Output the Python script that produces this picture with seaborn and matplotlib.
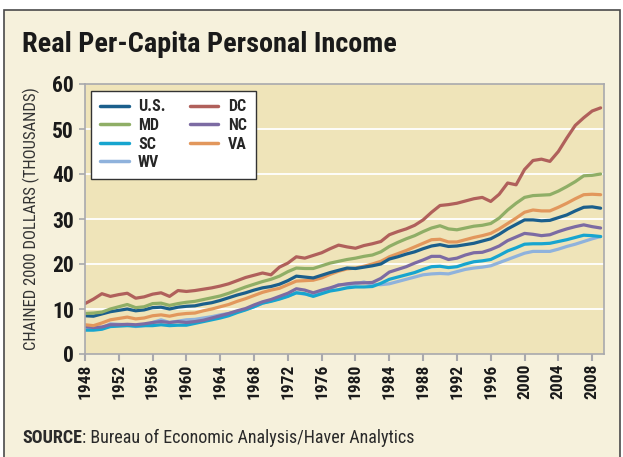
import matplotlib
matplotlib.use("Agg")
import matplotlib.pyplot as plt
from matplotlib.patches import Rectangle
from matplotlib.lines import Line2D
from matplotlib import font_manager
import seaborn as sns
import pandas as pd
import numpy as np

years = list(range(1948, 2010))

us = [8.5, 8.4, 8.9, 9.4, 9.7, 10.0, 9.6, 9.8, 10.3, 10.4, 10.0, 10.4, 10.6, 10.7, 11.1, 11.4,
      11.9, 12.5, 13.1, 13.6, 14.2, 14.7, 15.0, 15.5, 16.3, 17.3, 17.1, 16.9, 17.5, 18.1, 18.6, 19.1,
      19.0, 19.3, 19.6, 20.0, 21.1, 21.6, 22.2, 22.7, 23.4, 24.0, 24.3, 23.9, 24.0, 24.3, 24.6, 25.1,
      25.6, 26.6, 27.8, 28.8, 29.8, 29.8, 29.6, 29.7, 30.3, 30.9, 31.8, 32.6, 32.7, 32.4]
dc = [11.2, 12.2, 13.4, 12.8, 13.2, 13.5, 12.4, 12.7, 13.3, 13.6, 12.8, 14.1, 13.9, 14.1, 14.4, 14.7,
      15.1, 15.6, 16.3, 17.0, 17.5, 18.0, 17.6, 19.3, 20.2, 21.6, 21.3, 21.9, 22.5, 23.4, 24.2, 23.8,
      23.5, 24.1, 24.5, 25.0, 26.5, 27.2, 27.8, 28.6, 29.8, 31.5, 33.0, 33.2, 33.5, 34.0, 34.5, 34.8,
      33.9, 35.5, 38.0, 37.6, 41.0, 43.0, 43.3, 42.8, 45.0, 48.0, 50.8, 52.5, 54.0, 54.7]
md = [9.0, 9.1, 9.3, 10.0, 10.5, 11.0, 10.3, 10.5, 11.2, 11.3, 10.8, 11.2, 11.5, 11.7, 12.1, 12.5,
      12.9, 13.5, 14.2, 14.9, 15.5, 16.1, 16.6, 17.3, 18.3, 19.1, 19.0, 19.0, 19.6, 20.2, 20.6, 21.0,
      21.3, 21.7, 22.0, 22.7, 23.9, 24.8, 25.6, 26.3, 27.2, 28.0, 28.5, 27.8, 27.6, 28.0, 28.4, 28.6,
      29.0, 30.2, 32.0, 33.5, 34.8, 35.2, 35.3, 35.4, 36.2, 37.2, 38.3, 39.6, 39.7, 40.0]
nc = [6.1, 5.9, 6.0, 6.5, 6.5, 6.6, 6.5, 6.7, 7.0, 7.2, 7.0, 7.2, 7.0, 7.2, 7.5, 8.0,
      8.5, 9.0, 9.6, 10.1, 10.9, 11.6, 12.1, 12.8, 13.5, 14.5, 14.2, 13.6, 14.2, 14.7, 15.3, 15.6,
      15.8, 15.8, 15.9, 16.8, 18.2, 18.8, 19.4, 20.2, 20.9, 21.7, 21.7, 21.0, 21.3, 22.0, 22.5, 22.6,
      23.2, 24.0, 25.2, 26.0, 26.8, 26.6, 26.3, 26.5, 27.2, 27.8, 28.3, 28.7, 28.3, 28.0]
sc = [5.3, 5.3, 5.5, 6.1, 6.2, 6.3, 6.2, 6.3, 6.3, 6.5, 6.3, 6.4, 6.4, 6.8, 7.2, 7.6,
      8.0, 8.5, 9.2, 9.8, 10.5, 11.3, 11.7, 12.2, 12.8, 13.6, 13.4, 12.8, 13.4, 14.0, 14.3, 14.7,
      14.9, 14.9, 15.0, 15.7, 16.6, 17.1, 17.6, 18.1, 18.8, 19.4, 19.5, 19.2, 19.4, 20.0, 20.5, 20.7,
      21.0, 21.9, 22.9, 23.6, 24.4, 24.5, 24.5, 24.6, 25.0, 25.4, 25.9, 26.4, 26.3, 26.1]
va = [6.5, 6.3, 6.9, 7.6, 7.9, 8.2, 7.8, 8.0, 8.5, 8.7, 8.4, 8.8, 9.0, 9.1, 9.6, 10.0,
      10.5, 11.0, 11.7, 12.3, 13.0, 13.7, 14.2, 14.6, 15.4, 16.2, 16.3, 16.4, 16.9, 17.7, 18.4, 18.9,
      19.1, 19.5, 20.0, 20.6, 21.6, 22.3, 23.0, 23.8, 24.6, 25.4, 25.5, 24.9, 24.9, 25.4, 25.9, 26.3,
      26.8, 27.8, 29.0, 30.2, 31.5, 32.0, 31.8, 31.8, 32.6, 33.5, 34.5, 35.4, 35.5, 35.4]
wv = [6.1, 5.5, 5.8, 6.7, 6.6, 6.5, 6.1, 6.3, 7.0, 7.6, 7.0, 7.3, 7.6, 7.7, 8.0, 8.3,
      8.7, 9.0, 9.4, 9.9, 10.5, 11.3, 11.8, 12.3, 12.9, 13.6, 13.3, 13.0, 13.8, 14.5, 15.4, 15.4,
      15.6, 16.0, 15.5, 15.4, 15.6, 16.1, 16.6, 17.1, 17.6, 17.8, 17.9, 17.8, 18.3, 18.8, 19.1, 19.3,
      19.6, 20.3, 21.0, 21.7, 22.4, 22.8, 22.8, 22.8, 23.3, 23.9, 24.4, 25.0, 25.6, 26.1]

series_names = ["U.S.", "MD", "SC", "WV", "DC", "NC", "VA"]
series_values = [us, md, sc, wv, dc, nc, va]
colors = ["#1b5f8c", "#8fae66", "#17a5cf", "#8fb2dc", "#b0605b", "#7c6ba3", "#e2975c"]
x_ticks = list(range(1948, 2009, 4))
y_ticks = list(range(0, 61, 10))

title = "Real Per-Capita Personal Income"
ylabel = "CHAINED 2000 DOLLARS (THOUSANDS)"
source_bold = "SOURCE"
source_rest = ": Bureau of Economic Analysis/Haver Analytics"

df = pd.DataFrame({
    "year": np.tile(years, len(series_names)),
    "value": np.concatenate(series_values),
    "series": np.repeat(series_names, len(years)),
})

sns.set_theme(style="white")
installed = {f.name for f in font_manager.fontManager.ttflist}
narrow = [n for n in ["Roboto Condensed", "Open Sans Condensed", "Liberation Sans Narrow"]
          if n in installed]
fam = narrow[:1] + ["DejaVu Sans"]
plt.rcParams["font.family"] = fam

fig = plt.figure(figsize=(6.23, 4.57), dpi=100)
fig.patch.set_facecolor("white")
fig.patches.append(Rectangle((4 / 623, -0.01), 616 / 623, 1 - 10 / 457 + 0.01,
                             transform=fig.transFigure, facecolor="#f6f1dc",
                             edgecolor="#4a4a4a", linewidth=1.2, zorder=-5))

ax = fig.add_axes([85 / 623, 1 - 354 / 457, (604 - 85) / 623, (354 - 84) / 457])
ax.set_zorder(2)
ax.set_facecolor("#efe4b9")

draw_order = ["WV", "SC", "NC", "VA", "U.S.", "MD", "DC"]
palette = dict(zip(series_names, colors))
sns.lineplot(data=df, x="year", y="value", hue="series", hue_order=draw_order,
             palette=palette, linewidth=2.3, ax=ax, legend=False)

ax.set_xlim(1948, 2009.4)
ax.set_ylim(0, 60)
ax.set_yticks(y_ticks)
ax.set_xticks(x_ticks)
ax.set_xticklabels([str(t) for t in x_ticks], rotation=90, fontweight="bold", fontsize=12.5)
ax.set_yticklabels([str(t) for t in y_ticks], fontweight="bold", fontsize=15.5)
for yv in y_ticks[1:-1]:
    ax.axhline(yv, color="white", linewidth=1.3, zorder=0.5)
ax.set_xlabel("")
ax.set_ylabel(ylabel, fontsize=12, color="#333333", labelpad=9)

for s in ax.spines.values():
    s.set_color("#a9a9ad")
    s.set_linewidth(1.2)
ax.tick_params(axis="x", which="both", bottom=True, length=5, width=1.5, color="#a9a9ad",
               pad=2, labelcolor="#1a1a1a")
ax.tick_params(axis="y", which="both", left=True, length=4, width=1.2, color="#a9a9ad",
               pad=4, labelcolor="#1a1a1a")

handles = [Line2D([0], [0], color=palette[n], linewidth=2.5) for n in series_names]
leg = ax.legend(handles, series_names, ncol=2, loc="upper left",
                bbox_to_anchor=(6 / 519, 1 - 6.7 / 270), borderaxespad=0,
                frameon=True, fancybox=False,
                prop={"family": fam, "weight": "bold", "size": 11.5},
                handlelength=1.8, handletextpad=0.6, columnspacing=1.5,
                labelspacing=0.22, borderpad=0.55)
leg.get_frame().set_edgecolor("#333333")
leg.get_frame().set_linewidth(1.0)
leg.get_frame().set_facecolor("white")
leg.get_frame().set_alpha(1)

fig.text(22 / 623, 1 - 45 / 457, title, fontsize=20.3, fontweight="bold", color="#1a1a1a",
         va="center", ha="left")
t1 = fig.text(22 / 623, 1 - 438 / 457, source_bold, fontsize=13, fontweight="bold",
              color="#2a2a2a", va="center", ha="left")
fig.canvas.draw()
bb = t1.get_window_extent()
fig.text(bb.x1 / fig.bbox.width, 1 - 438 / 457, source_rest, fontsize=13,
         color="#2a2a2a", va="center", ha="left")

fig.savefig("out.png", dpi=100, facecolor=fig.get_facecolor())
